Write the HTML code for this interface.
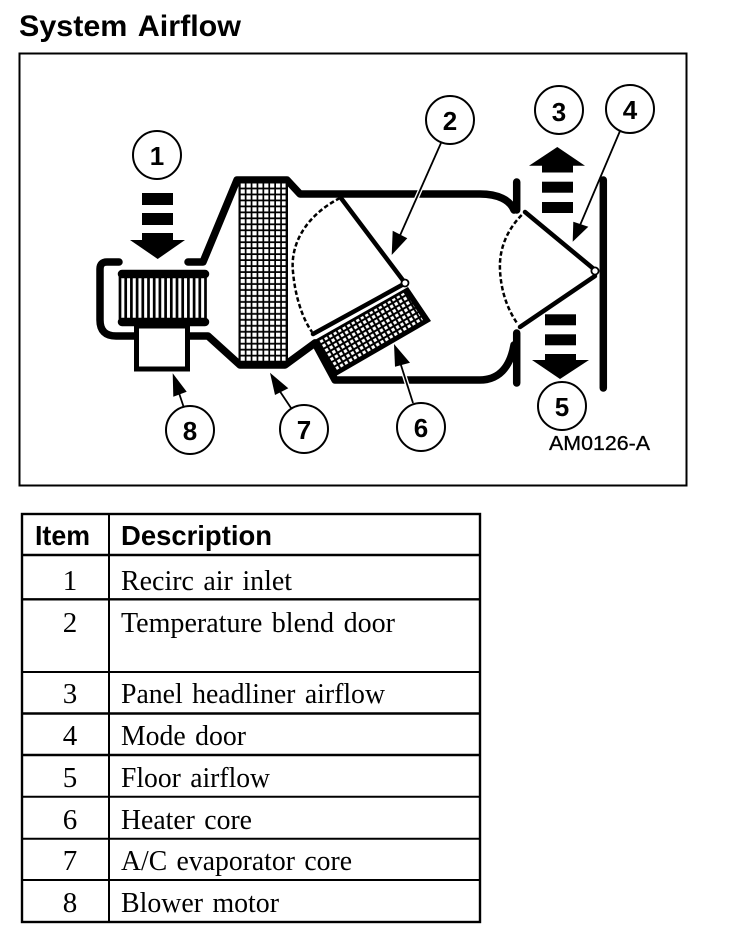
<!DOCTYPE html>
<html><head><meta charset="utf-8"><style>
html,body{margin:0;padding:0;background:#fff}
svg{display:block}
.t{font-family:"Liberation Serif",serif;font-size:28px;word-spacing:2.5px;fill:#000}
.n{font-family:"Liberation Serif",serif;font-size:29px;fill:#000;text-anchor:middle}
.h{font-family:"Liberation Sans",sans-serif;font-weight:bold;font-size:27.5px;fill:#000}
.c{font-family:"Liberation Sans",sans-serif;font-weight:bold;font-size:26px;fill:#000;text-anchor:middle}
</style></head><body>
<svg width="736" height="934" viewBox="0 0 736 934" xmlns="http://www.w3.org/2000/svg">
<defs>
<pattern id="ev" x="240.6" y="183.4" width="5.9" height="5.97" patternUnits="userSpaceOnUse"><rect width="4.2" height="4.2" fill="#fff"/></pattern>
<pattern id="hc" width="5.2" height="5.2" patternUnits="userSpaceOnUse" patternTransform="translate(318,340) rotate(-30)"><rect x="1" y="1" width="3.2" height="3.2" fill="#fff"/></pattern>
</defs>
<rect width="736" height="934" fill="#fff"/>
<text x="19" y="36" class="h" style="font-size:30px;word-spacing:3px" textLength="222" lengthAdjust="spacingAndGlyphs">System Airflow</text>
<rect x="19.5" y="53.5" width="667" height="432" fill="none" stroke="#000" stroke-width="2"/>

<!-- ducts -->
<g fill="none" stroke="#000" stroke-width="7.5" stroke-linejoin="round" stroke-linecap="round">
<path d="M119,262 H107 Q100,262 100,269 V320 Q100,336 116,336 H135"/>
<path d="M188,262 H203 L237,180 H287 L300,194 H480 C498,194 510,200 514,210"/>
<path d="M189,336 H208 L240,365 H285 L315,343"/>
<path d="M315,343 L335,380 H480 C498,380 510,368 514,345"/>
<path d="M516.7,182 V210"/>
<path d="M516.7,333 V383"/>
<path d="M603.3,180 V388"/>
<path d="M122,274 H205" stroke-width="8.5"/>
<path d="M122,322 H205" stroke-width="8.5"/>
</g>
<!-- blower fins -->
<g stroke="#000" stroke-width="2.7" fill="none">
<path d="M120,274V322M125.7,274V322M131.4,274V322M137.1,274V322M142.8,274V322M148.5,274V322M154.2,274V322M159.9,274V322M165.6,274V322M171.3,274V322M177,274V322M182.7,274V322M188.4,274V322M194.1,274V322M199.8,274V322M205.5,274V322"/>
</g>
<rect x="136.5" y="326" width="51" height="43" fill="#fff" stroke="#000" stroke-width="5"/>

<!-- evaporator -->
<rect x="238.5" y="180" width="49.5" height="186" fill="#000"/>
<rect x="240.6" y="183.4" width="45" height="178.6" fill="url(#ev)"/>

<!-- heater core -->
<polygon points="313,341 408,287 431,321 336,376" fill="#000"/>
<polygon points="319,341 405,292 423,320 337,370" fill="url(#hc)"/>

<!-- blend door -->
<g fill="none" stroke="#000" stroke-width="4.5" stroke-linecap="round">
<path d="M341.7,199 L405,283"/>
<path d="M313,334 L402,285"/>
<path d="M525,212 L595,270"/>
<path d="M520,327 L595,276"/>
</g>
<g fill="none" stroke="#000" stroke-width="2.5" stroke-dasharray="4.5 2.5">
<path d="M340,198 C305,216 290,245 293,272 C295,295 302,318 312,332"/>
<path d="M521.7,215 C505,232 499,252 500,270 C501,292 508,310 517,323"/>
</g>
<circle cx="405" cy="283" r="3.5" fill="#fff" stroke="#000" stroke-width="1.8"/>
<circle cx="595" cy="271" r="3.6" fill="#fff" stroke="#000" stroke-width="1.8"/>

<!-- flow arrows -->
<g fill="#000">
<rect x="142" y="193" width="31" height="12"/><rect x="142" y="213" width="31" height="12"/><rect x="142" y="233" width="31" height="8"/>
<polygon points="130,240 185,240 157.7,259"/>
<polygon points="529,165.7 585,165.7 557.3,147"/><rect x="542" y="165" width="31" height="7.5"/>
<rect x="542" y="181.7" width="31" height="11"/><rect x="542" y="202" width="31" height="11"/>
<rect x="545" y="314.3" width="31" height="11"/><rect x="545" y="334.3" width="31" height="11"/><rect x="545" y="354" width="31" height="7"/>
<polygon points="532,360 589,360 560,379"/>
</g>

<!-- leaders -->
<g fill="none" stroke="#fff" stroke-width="4.5">
<path d="M441,143 L398,240"/><path d="M413,403 L400,362"/>
</g>
<g fill="none" stroke="#000" stroke-width="1.8">
<path d="M441,143 L398,240"/>
<path d="M620,131 L578,230"/>
<path d="M413,403 L400,362"/>
<path d="M183.5,406.5 L178,390"/>
<path d="M291.7,409 L279,390"/>
</g>
<g fill="#000">
<polygon points="391.7,255 392.7,230.7 407.3,238.3"/>
<polygon points="572.7,241.7 573.3,221.7 588.3,226.7"/>
<polygon points="394,344 395,366.7 410,362.7"/>
<polygon points="172.7,373.3 173.3,396.7 186.7,391.7"/>
<polygon points="270,372.7 275,395 288.3,388.3"/>
</g>

<!-- callouts -->
<g fill="#fff" stroke="#000" stroke-width="2">
<circle cx="157" cy="155" r="24"/><circle cx="450" cy="120" r="24"/><circle cx="559" cy="110" r="24"/><circle cx="630" cy="109" r="24"/>
<circle cx="562" cy="406" r="24"/><circle cx="421" cy="427" r="24"/><circle cx="304" cy="429" r="24"/><circle cx="190" cy="430" r="24"/>
</g>
<text class="c" x="157" y="165">1</text><text class="c" x="450" y="130">2</text><text class="c" x="559" y="121">3</text><text class="c" x="630" y="119">4</text>
<text class="c" x="562" y="416">5</text><text class="c" x="421" y="437">6</text><text class="c" x="304" y="439">7</text><text class="c" x="190" y="440">8</text>
<text x="549" y="450" font-family="Liberation Sans, sans-serif" font-size="20" stroke="#000" stroke-width="0.3" textLength="101" lengthAdjust="spacingAndGlyphs">AM0126-A</text>

<!-- table -->
<g fill="none" stroke="#000">
<rect x="22" y="514" width="458" height="408" stroke-width="2.4"/>
<path d="M109,514V922" stroke-width="2"/>
<path d="M22,555H480" stroke-width="2.4"/>
<path d="M22,599.3H480" stroke-width="2.4"/>
<path d="M22,672H480" stroke-width="2"/>
<path d="M22,713.5H480" stroke-width="2.4"/>
<path d="M22,755H480" stroke-width="2.4"/>
<path d="M22,796.7H480" stroke-width="2"/>
<path d="M22,838.7H480" stroke-width="2"/>
<path d="M22,880H480" stroke-width="2"/>
</g>
<text class="h" x="35" y="545" textLength="55" lengthAdjust="spacingAndGlyphs">Item</text>
<text class="h" x="121" y="545" textLength="151" lengthAdjust="spacingAndGlyphs">Description</text>
<text class="n" x="70" y="590">1</text><text class="t" x="121" y="590" textLength="171" lengthAdjust="spacingAndGlyphs">Recirc air inlet</text>
<text class="n" x="70" y="632">2</text><text class="t" x="121" y="632" textLength="274" lengthAdjust="spacingAndGlyphs">Temperature blend door</text>
<text class="n" x="70" y="703">3</text><text class="t" x="121" y="703" textLength="264" lengthAdjust="spacingAndGlyphs">Panel headliner airflow</text>
<text class="n" x="70" y="745">4</text><text class="t" x="121" y="745" textLength="125" lengthAdjust="spacingAndGlyphs">Mode door</text>
<text class="n" x="70" y="787">5</text><text class="t" x="121" y="787" textLength="149" lengthAdjust="spacingAndGlyphs">Floor airflow</text>
<text class="n" x="70" y="829">6</text><text class="t" x="121" y="829" textLength="131" lengthAdjust="spacingAndGlyphs">Heater core</text>
<text class="n" x="70" y="870">7</text><text class="t" x="121" y="870" textLength="231" lengthAdjust="spacingAndGlyphs">A/C evaporator core</text>
<text class="n" x="70" y="912">8</text><text class="t" x="121" y="912" textLength="158" lengthAdjust="spacingAndGlyphs">Blower motor</text>
</svg>
</body></html>
